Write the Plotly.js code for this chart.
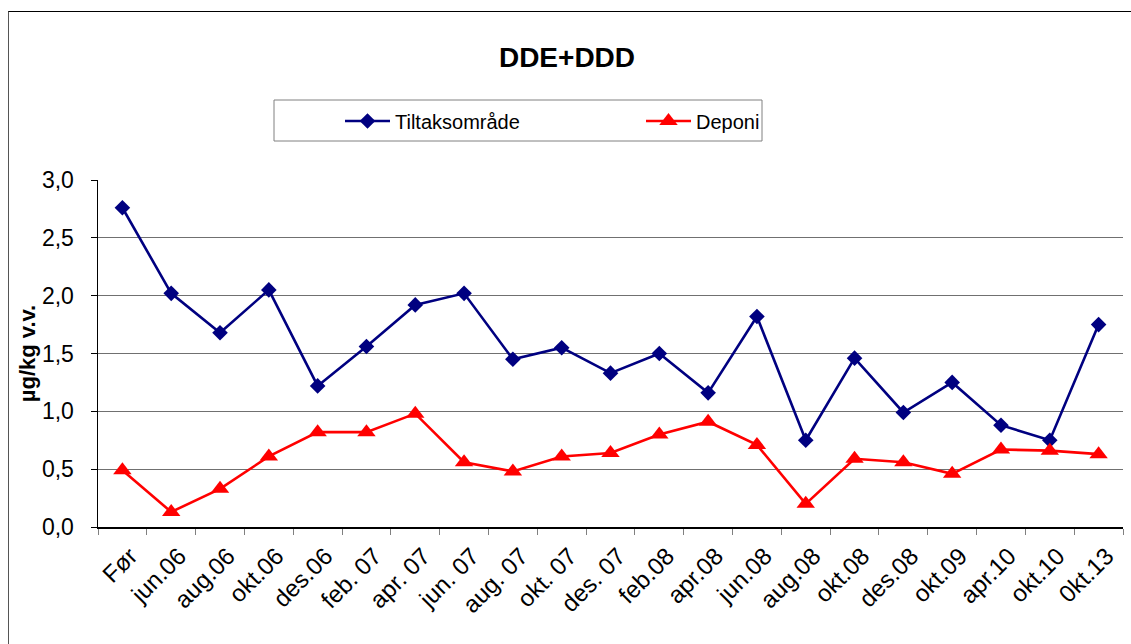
<!DOCTYPE html>
<html>
<head>
<meta charset="utf-8">
<script src="https://cdn.plot.ly/plotly-3.0.1.min.js"></script>
<style>
  html, body { margin: 0; padding: 0; background: #fff; }
  #wrap { position: relative; width: 1131px; height: 644px; overflow: hidden; }
  #chart { position: absolute; left: 0; top: 0; width: 1131px; height: 644px; }
  #frame { position: absolute; left: 8px; top: 11px; width: 1200px; height: 700px;
           border-left: 1px solid #555; border-top: 1px solid #000; pointer-events: none; }
</style>
</head>
<body>
<div id="wrap">
  <div id="chart"></div>
  <div id="frame"></div>
</div>
<script>
const categories = ["Før", "jun.06", "aug.06", "okt.06", "des.06", "feb. 07", "apr. 07", "jun. 07",
  "aug. 07", "okt. 07", "des. 07", "feb.08", "apr.08", "jun.08", "aug.08", "okt.08", "des.08",
  "okt.09", "apr.10", "okt.10", "0kt.13"];
const tiltaksomrade = [2.76, 2.02, 1.68, 2.05, 1.22, 1.56, 1.92, 2.02, 1.45, 1.55, 1.33,
  1.50, 1.16, 1.82, 0.75, 1.46, 0.99, 1.25, 0.88, 0.75, 1.75];
const deponi = [0.49, 0.13, 0.33, 0.61, 0.82, 0.82, 0.98, 0.56, 0.48, 0.61, 0.64,
  0.80, 0.91, 0.71, 0.20, 0.59, 0.56, 0.46, 0.67, 0.66, 0.63];
const yTicks = [0, 0.5, 1.0, 1.5, 2.0, 2.5, 3.0];

const FONT = "Arial, 'Liberation Sans', sans-serif";

const traces = [
  {
    x: categories, y: tiltaksomrade, name: "Tiltaksområde", type: "scatter", mode: "lines+markers",
    line: { color: "#000080", width: 2.6 },
    marker: { symbol: "diamond", size: 12, color: "#000080" }
  },
  {
    x: categories, y: deponi, name: "Deponi", type: "scatter", mode: "lines+markers",
    line: { color: "#FF0000", width: 2.6 },
    marker: { symbol: "triangle-up", size: 16, color: "#FF0000" }
  }
];

const L = 98, R = 1123, T = 180, B = 527;
const pw = R - L, ph = B - T;
const px = v => (v - L) / pw;
const py = v => (B - v) / ph;

const layout = {
  width: 1131, height: 644,
  margin: { l: L, r: 1131 - R, t: T, b: 644 - B, pad: 0 },
  paper_bgcolor: "#fff", plot_bgcolor: "#fff",
  separators: ", ",
  font: { family: FONT, color: "#000" },
  title: {
    text: "<b>DDE+DDD</b>", font: { family: FONT, size: 28, color: "#000" },
    xref: "container", x: 567 / 1131, xanchor: "center",
    yref: "container", y: 1 - 57 / 644, yanchor: "middle"
  },
  showlegend: true,
  legend: {
    orientation: "h", x: px(340), xanchor: "left", y: py(121), yanchor: "middle",
    font: { family: FONT, size: 20, color: "#000" },
    bgcolor: "rgba(0,0,0,0)", borderwidth: 0,
    entrywidth: 241, entrywidthmode: "pixels", itemwidth: 45
  },
  shapes: [
    { type: "rect", xref: "paper", yref: "paper", x0: px(274), x1: px(762), y0: py(141), y1: py(100),
      line: { color: "#808080", width: 1 }, fillcolor: "rgba(0,0,0,0)", layer: "below" }
  ],
  xaxis: {
    type: "category", showgrid: false, zeroline: false,
    showline: true, linecolor: "#000", linewidth: 1.5,
    ticks: "outside", tickson: "boundaries", ticklen: 6, tickcolor: "#808080", tickwidth: 1,
    tickangle: -45, tickfont: { family: FONT, size: 24, color: "#000" },
    ticklabelshift: 8, ticklabelstandoff: 4,
    range: [-0.5, categories.length - 0.5], fixedrange: true
  },
  yaxis: {
    range: [0, 3.0], tickvals: yTicks, tickformat: ".1f",
    showgrid: true, gridcolor: "#707070", gridwidth: 1,
    zeroline: false, showline: true, linecolor: "#000", linewidth: 1.5,
    ticks: "outside", ticklen: 6, tickcolor: "#000", ticklabelstandoff: 12,
    tickfont: { family: FONT, size: 23, color: "#000" },
    title: { text: "<b>µg/kg v.v.</b>", font: { family: FONT, size: 22, color: "#000" }, standoff: 0 },
    fixedrange: true
  }
};

Plotly.newPlot("chart", traces, layout, { staticPlot: true, displayModeBar: false });
</script>
</body>
</html>
